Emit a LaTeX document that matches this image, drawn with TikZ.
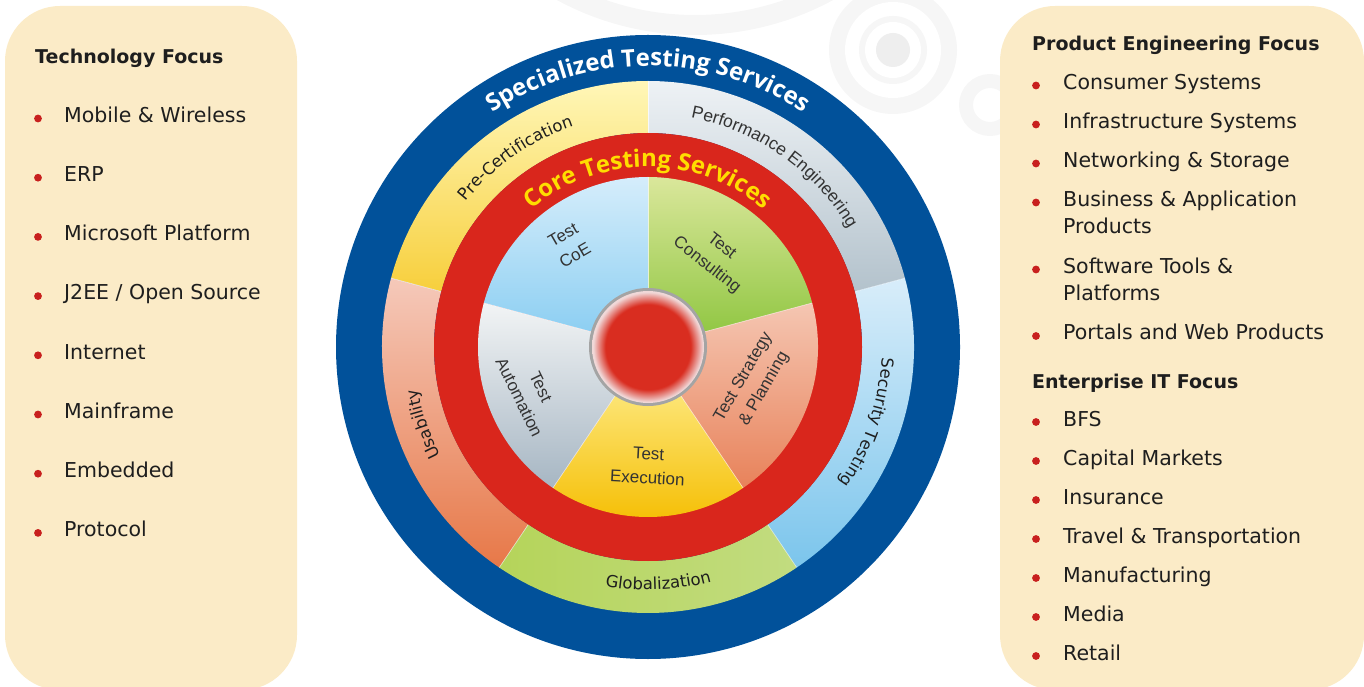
\documentclass[tikz,border=0pt]{standalone}
\usepackage{fontspec}
\setmainfont{DejaVu Sans}
\newfontfamily\titlefont{Open Sans}
\newfontfamily\labelfont{Liberation Sans}
\usetikzlibrary{decorations.text}

\definecolor{panelbg}{HTML}{FBEBC7}
\definecolor{bulletred}{HTML}{C8201E}
\definecolor{ringblue}{HTML}{01519A}
\definecolor{ringred}{HTML}{D9261C}
\definecolor{coreyellow}{HTML}{FFDD00}
\definecolor{inktext}{HTML}{1E1E1E}
\definecolor{greytext}{HTML}{333333}
% outer ring
\definecolor{pcA}{HTML}{FFF7B8}\definecolor{pcB}{HTML}{F7CF3C}
\definecolor{peA}{HTML}{EEF2F5}\definecolor{peB}{HTML}{B3C2CC}
\definecolor{stA}{HTML}{D8EDFA}\definecolor{stB}{HTML}{7BC5EC}
\definecolor{usA}{HTML}{F5C9BA}\definecolor{usB}{HTML}{E77848}
\definecolor{glL}{HTML}{B5D45A}\definecolor{glM}{HTML}{E0EAA0}\definecolor{glR}{HTML}{C2DC80}
% inner pie
\definecolor{coeA}{HTML}{D5EDFB}\definecolor{coeB}{HTML}{86CCF1}
\definecolor{conA}{HTML}{DAE79B}\definecolor{conB}{HTML}{8BC43C}
\definecolor{strA}{HTML}{F5C6B2}\definecolor{strB}{HTML}{E8825A}
\definecolor{exeA}{HTML}{FFF39E}\definecolor{exeB}{HTML}{F5BD00}
\definecolor{autA}{HTML}{F2F4F5}\definecolor{autB}{HTML}{A6B6C3}
\definecolor{ballred}{HTML}{D92D20}
\definecolor{ballpale}{HTML}{F0D8D8}
\definecolor{ballrim}{HTML}{A4A4A4}
\definecolor{bgA}{HTML}{F6F6F6}
\definecolor{bgB}{HTML}{EEEEEE}

\pgfdeclareradialshading{ballshade}{\pgfpointorigin}{%
  color(0bp)=(ballred); color(19bp)=(ballred); color(24.5bp)=(ballpale);
  color(25bp)=(ballpale); color(50bp)=(ballpale)}

\begin{document}
\begin{tikzpicture}[x=1pt,y=1pt,
    panel/.style={
      fill=panelbg,
      rounded corners=55},
    head/.style={
      anchor=base west,
      inner sep=0pt,
      text=inktext,
      font=\bfseries\fontsize{19}{22}\selectfont},
    item/.style={
      anchor=base west,
      inner sep=0pt,
      text=inktext,
      align=left,
      font=\fontsize{20.5}{27.5}\selectfont},
    reddot/.style={
      circle,
      fill=bulletred,
      inner sep=0pt,
      minimum size=7.8pt},
    pielabel/.style={
      align=center,
      text=greytext,
      font=\labelfont\fontsize{17}{24}\selectfont},
    sep/.style={
      draw=white,
      line width=0.6pt,
      opacity=0.7},
    arclabel/.style={
      decorate,
      decoration={text along path, text align=center, #1}}
]
\useasboundingbox (0,0) rectangle (1364,686);
\clip (0,0) rectangle (1364,686);

% background circles
\draw[bgA, line width=20pt] (695,941) circle (280);
\fill[bgA] (893,636) circle (64);
\fill[white] (893,636) circle (48);
\fill[bgA] (893,636) circle (34);
\fill[white] (893,636) circle (28);
\fill[bgB] (893,636) circle (17);
\draw[bgA, line width=14pt] (990,581) circle (24);

% side panels
\fill[panel] (5,-4) rectangle (297,680);
\fill[panel] (1000,-4) rectangle (1364,680);

% left panel
\node[head] (techhead) at (35,622.7) {Technology Focus};
\foreach \txt [count=\i from 0] in {Mobile \& Wireless, ERP, Microsoft Platform,
    J2EE / Open Source, Internet, Mainframe, Embedded, Protocol}{
  \node[reddot] (tdot\i) at (38,{567.5-59.2*\i}) {};
  \node[item] (tech\i) at (64,{563.7-59.2*\i}) {\txt};
}

% right panel
\node[head] (prodhead) at (1032,635) {Product Engineering Focus};
\node[head] (enthead) at (1032,298) {Enterprise IT Focus};
\foreach \txt/\yb/\yd [count=\i] in {% text/last baseline/bullet
    Consumer Systems/596.5/600.5, Infrastructure Systems/557.5/561.5,
    Networking \& Storage/518.5/522.5, {Business \& Application\\Products}/452/483.5,
    {Software Tools \&\\Platforms}/385/416.5, Portals and Web Products/346/350,
    BFS/260/264, Capital Markets/221/225, Insurance/182/186,
    Travel \& Transportation/143/147, Manufacturing/104/108, Media/65/69, Retail/26/30}{
  \node[reddot] (pdot\i) at (1036,\yd) {};
  \node[item] (prod\i) at (1063,\yb) {\txt};
}

% wheel
\begin{scope}[shift={(648,339)}]
  \fill[ringblue] (0,0) circle (312);
  % specialized services ring
  \foreach \a/\b/\ca/\cb in {90/165/pcA/pcB, 15/90/peA/peB, -56/15/stA/stB, 165/236/usA/usB}
    \shade[top color=\ca, bottom color=\cb] (\a:266) arc[start angle=\a, end angle=\b, radius=266]
      -- (\b:214) arc[start angle=\b, end angle=\a, radius=214] -- cycle;
  \shade[left color=glL, middle color=glM, right color=glR] (236:266) arc[start angle=236, end angle=304, radius=266]
    -- (304:214) arc[start angle=304, end angle=236, radius=214] -- cycle;
  \foreach \a in {15,90,165,236,304}
    \draw[sep] (\a:214) -- (\a:266);
  % core services ring
  \fill[ringred] (0,0) circle (214);
  \foreach \a/\b/\ca/\cb in {90/165/coeA/coeB, 15/90/conA/conB, -56/15/strA/strB,
      236/304/exeA/exeB, 165/236/autA/autB}
    \shade[top color=\ca, bottom color=\cb] (0,0) -- (\a:170) arc[start angle=\a, end angle=\b, radius=170] -- cycle;
  \foreach \a in {15,90,165,236,304}
    \draw[sep] (0,0) -- (\a:170);
  % hub
  \fill[ballrim] (0,0) circle (59);
  \shade[shading=ballshade] (0,0) circle (56);

  % ring titles
  \path[arclabel={text color=white, text={|\titlefont\bfseries\fontsize{24}{24}\selectfont|Specialized Testing Services}}]
    (150:281) arc[start angle=150, end angle=30, radius=281];
  \path[arclabel={text color=coreyellow, text={|\titlefont\bfseries\fontsize{24}{24}\selectfont|Core Testing Services}}]
    (140:180) arc[start angle=140, end angle=40, radius=180];

  % specialized services
  \path[arclabel={text color=inktext, text={|\fontsize{16.5}{16.5}\selectfont|Pre-Certification}}]
    (165:233) arc[start angle=165, end angle=85, radius=233];
  \path[arclabel={text color=greytext, text={|\labelfont\fontsize{17.5}{17.5}\selectfont|Performance Engineering}}]
    (95:233) arc[start angle=95, end angle=15, radius=233];
  \path[arclabel={text color=inktext, text={|\fontsize{16.5}{16.5}\selectfont|Security Testing}}]
    (21:234) arc[start angle=21, end angle=-59, radius=234];
  \path[arclabel={text color=inktext, text={|\fontsize{16.5}{16.5}\selectfont|Usability}}]
    (239:234) arc[start angle=239, end angle=159, radius=234];
  \path[arclabel={text color=inktext, text={|\fontsize{16.5}{16.5}\selectfont|Globalization}}]
    (232:243) arc[start angle=232, end angle=313, radius=243];

  % core services
  \node[pielabel, rotate=30] (coe) at (-79,102) {Test\\CoE};
  \node[pielabel, rotate=-38] (consult) at (66,91) {Test\\Consulting};
  \node[pielabel, rotate=60] (strategy) at (106,-36) {Test Strategy\\\& Planning};
  \node[pielabel, rotate=-3] (execution) at (0,-119) {Test\\Execution};
  \node[pielabel, rotate=-64] (automation) at (-118,-45) {Test\\Automation};
\end{scope}
\end{tikzpicture}
\end{document}
